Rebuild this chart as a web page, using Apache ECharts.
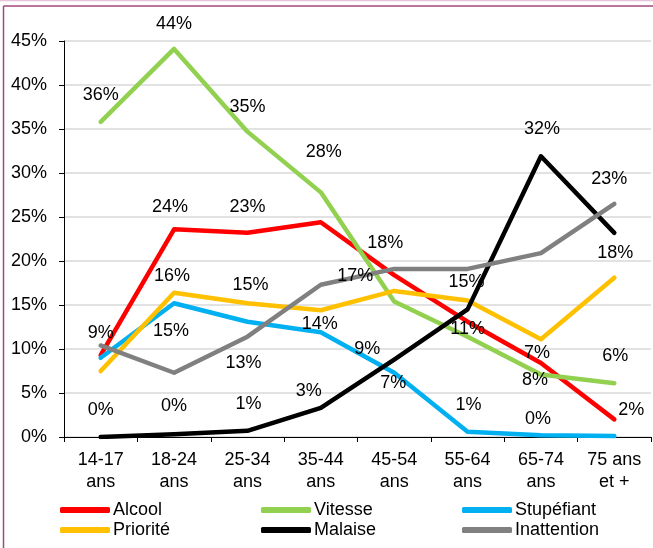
<!DOCTYPE html>
<html>
<head>
<meta charset="utf-8">
<script src="https://cdn.jsdelivr.net/npm/echarts@6/dist/echarts.min.js"></script>
<style>
html,body{margin:0;padding:0;background:#fff;}
#chart{width:653px;height:548px;}
</style>
</head>
<body>
<div id="chart"></div>
<script>
// ---- Data ----
const categories = ['14-17\nans', '18-24\nans', '25-34\nans', '35-44\nans', '45-54\nans', '55-64\nans', '65-74\nans', '75 ans\net +'];
const yTicks = { min: 0, max: 45, interval: 5 };
const alcool      = [9.3, 23.6, 23.2, 24.4, 18.4, 13.1, 8.4, 2.0];
const vitesse     = [35.8, 44.1, 34.7, 27.8, 15.4, 11.4, 7.1, 6.1];
const stupefiant  = [9.0, 15.2, 13.1, 11.9, 7.3, 0.6, 0.2, 0.1];
const priorite    = [7.5, 16.4, 15.2, 14.4, 16.6, 15.5, 11.1, 18.1];
const malaise     = [0.0, 0.3, 0.7, 3.3, 8.8, 14.5, 31.9, 23.2];
const inattention = [10.4, 7.3, 11.4, 17.3, 19.1, 19.1, 20.9, 26.5];

// ---- Styling: which points carry a label, and where it sits relative to the point ----
const labelStyle = {
  'Alcool':      {1:[-4,-22], 2:[0,-26], 4:[-9,-32], 6:[-6,17], 7:[17,-9]},
  'Vitesse':     {0:[0,-27], 1:[0,-25], 2:[0,-25], 3:[3,-40], 5:[0,-8], 6:[-4,-21], 7:[1,-27]},
  'Stupéfiant':  {0:[0,-25], 1:[-3,28], 2:[-4,41], 4:[-1,10], 5:[1,-27], 6:[-3,-16]},
  'Priorité':    {1:[-2,-17], 2:[3,-18], 3:[-1,14], 4:[-39,-15], 7:[1,-25]},
  'Malaise':     {0:[0,-27], 1:[0,-28], 2:[1,-27], 3:[-12,-17], 4:[-27,-11], 5:[-1,-27], 6:[1,-27], 7:[-5,-54]},
  'Inattention': {}
};

const seriesDefs = [
  {name:'Alcool', data:alcool, color:'#FF0000'},
  {name:'Vitesse', data:vitesse, color:'#92D050'},
  {name:'Stupéfiant', data:stupefiant, color:'#00B0F0'},
  {name:'Priorité', data:priorite, color:'#FFC000'},
  {name:'Malaise', data:malaise, color:'#000000'},
  {name:'Inattention', data:inattention, color:'#808080'}
];

const FONT = '"Liberation Sans", Arial, sans-serif';
const FS = 18;

const series = seriesDefs.map(s => ({
  name: s.name,
  type: 'line',
  color: s.color,
  symbol: 'circle',
  symbolSize: 0,
  showSymbol: true,
  lineStyle: {width: 4.5, color: s.color, cap: 'round', join: 'round'},
  itemStyle: {color: s.color},
  emphasis: {disabled: true},
  animation: false,
  data: s.data.map((v, i) => {
    const off = labelStyle[s.name][i];
    return off ? {value: v, label: {show: true, offset: off}} : {value: v, label: {show: false}};
  }),
  label: {
    show: false,
    position: 'inside',
    align: 'center',
    verticalAlign: 'middle',
    color: '#000',
    fontFamily: FONT,
    fontSize: FS,
    formatter: p => Math.round(p.value) + '%'
  }
}));

const legendCols = [60, 261, 462];
const legendRows = [500, 520];
const legends = seriesDefs.map((s, i) => ({
  data: [s.name],
  left: legendCols[i % 3],
  top: legendRows[Math.floor(i / 3)],
  icon: 'roundRect',
  itemWidth: 50,
  itemHeight: 6,
  itemGap: 0,
  padding: 0,
  selectedMode: false,
  textStyle: {fontFamily: FONT, fontSize: FS, color: '#000', lineHeight: 20, padding: [0,0,0,-2]}
}));

const chart = echarts.init(document.getElementById('chart'), null, {renderer: 'canvas'});
chart.setOption({
  animation: false,
  backgroundColor: '#ffffff',
  grid: {left: 64, right: 2, top: 41, bottom: 111, containLabel: false},
  graphic: [
    {type: 'line', shape: {x1: 0, y1: 0.5, x2: 653, y2: 0.5}, style: {stroke: '#e6c3d6', lineWidth: 1.5}},
    {type: 'line', shape: {x1: 3.5, y1: 6, x2: 653, y2: 6}, style: {stroke: '#a3477c', lineWidth: 1.5}},
    {type: 'line', shape: {x1: 3.5, y1: 6, x2: 3.5, y2: 548}, style: {stroke: '#a3477c', lineWidth: 1.5}}
  ],
  legend: legends,
  xAxis: {
    type: 'category',
    data: categories,
    boundaryGap: true,
    axisLine: {show: true, lineStyle: {color: '#000', width: 1}},
    axisTick: {show: true, alignWithLabel: false, length: 5, lineStyle: {color: '#000'}},
    axisLabel: {fontFamily: FONT, fontSize: FS, color: '#000', lineHeight: 22, margin: 12, interval: 0},
    splitLine: {show: false}
  },
  yAxis: {
    type: 'value',
    min: yTicks.min, max: yTicks.max, interval: yTicks.interval,
    axisLine: {show: true, lineStyle: {color: '#000', width: 1}},
    axisTick: {show: true, length: 5, lineStyle: {color: '#000'}},
    axisLabel: {fontFamily: FONT, fontSize: FS, color: '#000', margin: 17, padding: [6,0,0,0], formatter: '{value}%'},
    splitLine: {show: true, lineStyle: {color: '#d9d9d9', width: 1.5}}
  },
  series: series
});
</script>
</body>
</html>
